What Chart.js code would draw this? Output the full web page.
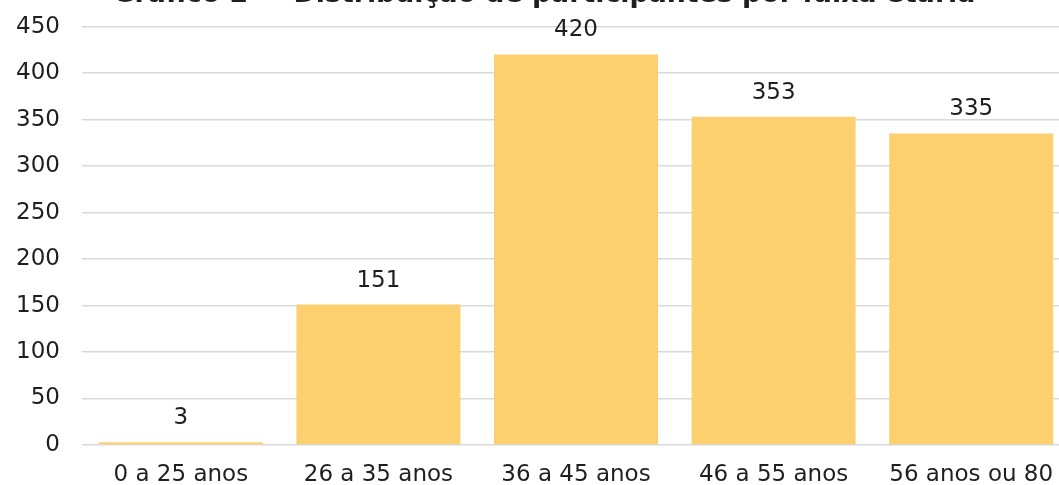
<!DOCTYPE html>
<html>
<head>
<meta charset="utf-8">
<script src="https://cdn.jsdelivr.net/npm/chart.js@4.4.1/dist/chart.umd.min.js"></script>
<style>
  html, body { margin: 0; padding: 0; background: #ffffff; overflow: hidden; }
  #wrap { position: relative; width: 1070px; height: 485px; }
</style>
</head>
<body>
<div id="wrap"><canvas id="c"></canvas></div>
<script>
const titleText = "Gráfico 2 — Distribuição de participantes por faixa etária";
const categories = ["0 a 25 anos", "26 a 35 anos", "36 a 45 anos", "46 a 55 anos", "56 anos ou 80"];
const participants = [3, 151, 420, 353, 335];
const yMin = 0;
const yMax = 450;
const yStep = 50;

const FONT = "'DejaVu Sans', sans-serif";
const TEXT = "#1f1f1f";

const valueLabels = {
  id: "valueLabels",
  afterDatasetsDraw(chart) {
    const ctx = chart.ctx;
    const meta = chart.getDatasetMeta(0);
    ctx.save();
    ctx.font = "23px " + FONT;
    ctx.fillStyle = TEXT;
    ctx.textAlign = "center";
    ctx.textBaseline = "middle";
    meta.data.forEach((bar, i) => {
      ctx.fillText(String(participants[i]), bar.x, bar.y - 24);
    });
    ctx.restore();
  }
};

const topTitle = {
  id: "topTitle",
  afterDraw(chart) {
    const ctx = chart.ctx;
    ctx.save();
    ctx.font = "bold 26px " + FONT;
    const w = ctx.measureText(titleText).width;
    const size = 26 * 862 / w;
    ctx.font = "bold " + size.toFixed(1) + "px " + FONT;
    ctx.fillStyle = TEXT;
    ctx.textAlign = "center";
    ctx.textBaseline = "alphabetic";
    ctx.fillText(titleText, 544, 2);
    ctx.restore();
  }
};

new Chart(document.getElementById("c"), {
  type: "bar",
  data: {
    labels: categories,
    datasets: [{
      data: participants,
      backgroundColor: "#FDD06F",
      borderWidth: 0,
      categoryPercentage: 0.83,
      barPercentage: 1.0
    }]
  },
  options: {
    responsive: true,
    maintainAspectRatio: false,
    animation: false,
    devicePixelRatio: 1,
    layout: { padding: { top: 19, right: 0, left: 0, bottom: 0 } },
    plugins: {
      legend: { display: false },
      tooltip: { enabled: false },
      title: { display: false }
    },
    scales: {
      x: {
        grid: { display: false },
        border: { display: false },
        ticks: { color: TEXT, font: { family: FONT, size: 23 }, padding: 8, maxRotation: 0, autoSkip: false },
        afterFit(s) { s.height = 40; }
      },
      y: {
        min: yMin,
        max: yMax,
        ticks: { stepSize: yStep, color: TEXT, font: { family: FONT, size: 23, lineHeight: 0.4 }, padding: 22 },
        grid: { color: "#d9d9d9", lineWidth: 1.5, drawTicks: false },
        border: { display: false },
        afterFit(s) { s.width = 82; }
      }
    }
  },
  plugins: [valueLabels, topTitle]
});
</script>
</body>
</html>
